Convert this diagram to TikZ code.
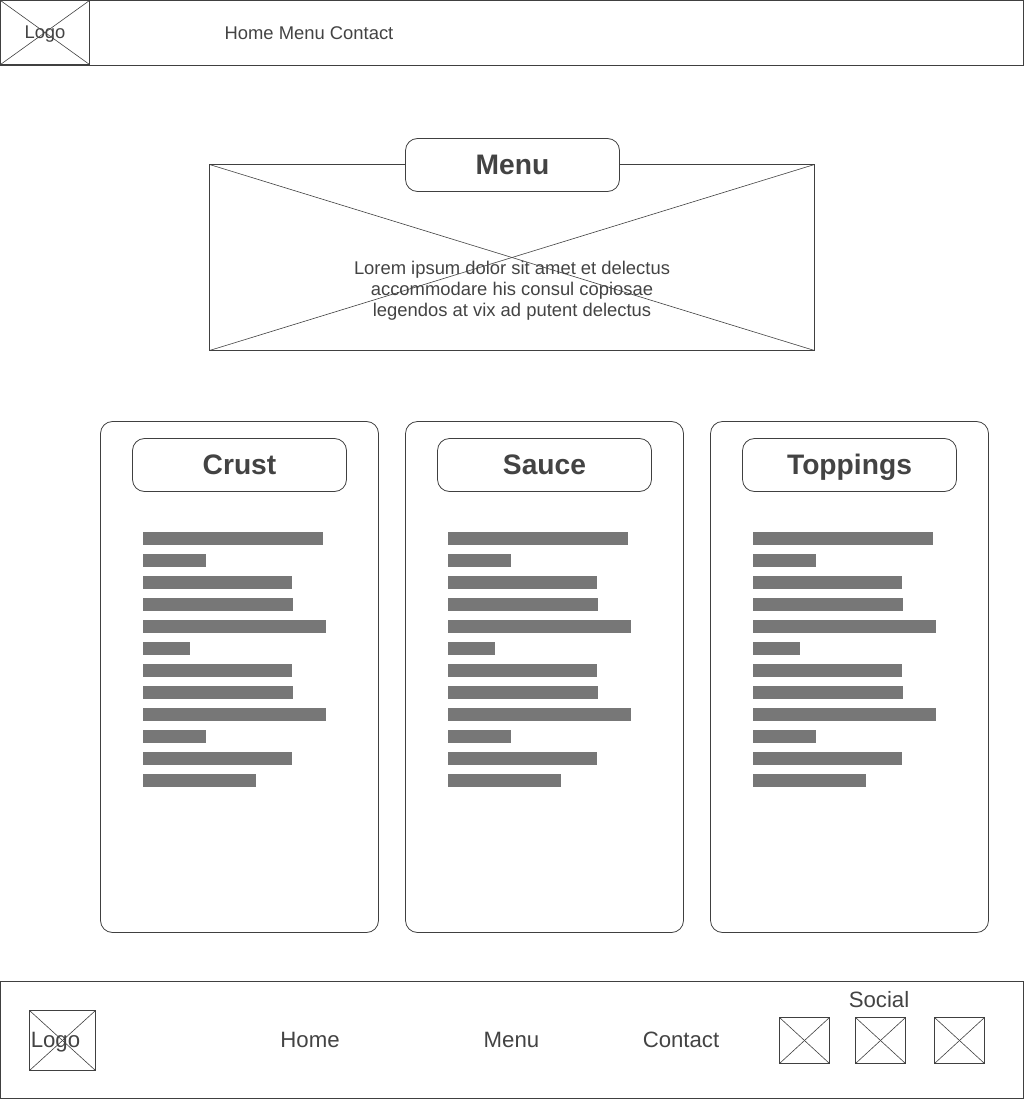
\documentclass[tikz,border=0pt]{standalone}
\usepackage{fontspec}
\setmainfont{Liberation Sans}
\usepackage{tikz}
\definecolor{wireline}{HTML}{404040}
\definecolor{wiretext}{HTML}{434343}
\definecolor{wirebar}{HTML}{777777}

\begin{document}
\begin{tikzpicture}[x=1pt,y=-1pt]
    \tikzstyle{frame}=[
      draw=wireline,
      line width=0.8pt,
      rectangle,
      inner sep=0pt,
      outer sep=0pt,
      anchor=north west,
    ]
    \tikzstyle{cross}=[draw=wireline,line width=0.6pt]
    \tikzstyle{card}=[
      frame,
      rounded corners=12pt,
      minimum width=278pt,
      minimum height=511pt,
    ]
    \tikzstyle{pill}=[
      frame,
      fill=white,
      rounded corners=12pt,
      minimum width=214pt,
      minimum height=53pt,
      text=wiretext,
      text height=19pt,
      text depth=0pt,
      font=\fontsize{28.2}{32}\selectfont\bfseries,
    ]
    \tikzstyle{bar}=[
      fill=wirebar,
      rectangle,
      inner sep=0pt,
      outer sep=0pt,
      anchor=north west,
      minimum height=13pt,
    ]
    \tikzstyle{smalltext}=[
      text=wiretext,
      inner sep=0pt,
      anchor=base,
      font=\fontsize{18.4}{21}\selectfont,
    ]
    \tikzstyle{bigtext}=[
      text=wiretext,
      inner sep=0pt,
      anchor=base,
      font=\fontsize{22.2}{26}\selectfont,
    ]

    \useasboundingbox (0,0) rectangle (1024,1099);

    \coordinate (crustAnchor) at (143,532);
    \coordinate (sauceAnchor) at (448,532);
    \coordinate (toppingsAnchor) at (753,532);

    % header
    {
      \node[frame, minimum width=1023pt, minimum height=65pt] (header) at (0.5,0.5) {};
      \node[frame, minimum width=89pt, minimum height=64pt] (headerLogo) at (0.5,0.5) {};
      \draw[cross] (headerLogo.north west)--(headerLogo.south east);
      \draw[cross] (headerLogo.south west)--(headerLogo.north east);
      \node[smalltext] (headerLogoText) at (45,38.5) {Logo};
      \node[smalltext] (headerNav) at (309,39.5) {Home Menu Contact};
    }

    % hero
    {
      \node[frame, minimum width=605pt, minimum height=186pt] (hero) at (209.5,164.5) {};
      \draw[cross] (hero.north west)--(hero.south east);
      \draw[cross] (hero.south west)--(hero.north east);
      \node[pill] (heroTitle) at (405.5,138.5) {Menu};
      \node[smalltext, anchor=center, align=center] (heroText) at (512,291) {Lorem ipsum dolor sit amet et delectus\\accommodare his consul copiosae\\legendos at vix ad putent delectus};
    }

    % crust
    {
      \node[card] (crust) at (100.5,421.5) {};
      \node[pill] (crustTitle) at (132.5,438.5) {Crust};

      \node[bar, minimum width=180pt] (crust1) at ([yshift=0pt] crustAnchor) {};
      \node[bar, minimum width=63pt] (crust2) at ([yshift=-22pt] crustAnchor) {};
      \node[bar, minimum width=149pt] (crust3) at ([yshift=-44pt] crustAnchor) {};
      \node[bar, minimum width=150pt] (crust4) at ([yshift=-66pt] crustAnchor) {};
      \node[bar, minimum width=183pt] (crust5) at ([yshift=-88pt] crustAnchor) {};
      \node[bar, minimum width=47pt] (crust6) at ([yshift=-110pt] crustAnchor) {};
      \node[bar, minimum width=149pt] (crust7) at ([yshift=-132pt] crustAnchor) {};
      \node[bar, minimum width=150pt] (crust8) at ([yshift=-154pt] crustAnchor) {};
      \node[bar, minimum width=183pt] (crust9) at ([yshift=-176pt] crustAnchor) {};
      \node[bar, minimum width=63pt] (crust10) at ([yshift=-198pt] crustAnchor) {};
      \node[bar, minimum width=149pt] (crust11) at ([yshift=-220pt] crustAnchor) {};
      \node[bar, minimum width=113pt] (crust12) at ([yshift=-242pt] crustAnchor) {};
    }

    % sauce
    {
      \node[card] (sauce) at (405.5,421.5) {};
      \node[pill] (sauceTitle) at (437.5,438.5) {Sauce};

      \node[bar, minimum width=180pt] (sauce1) at ([yshift=0pt] sauceAnchor) {};
      \node[bar, minimum width=63pt] (sauce2) at ([yshift=-22pt] sauceAnchor) {};
      \node[bar, minimum width=149pt] (sauce3) at ([yshift=-44pt] sauceAnchor) {};
      \node[bar, minimum width=150pt] (sauce4) at ([yshift=-66pt] sauceAnchor) {};
      \node[bar, minimum width=183pt] (sauce5) at ([yshift=-88pt] sauceAnchor) {};
      \node[bar, minimum width=47pt] (sauce6) at ([yshift=-110pt] sauceAnchor) {};
      \node[bar, minimum width=149pt] (sauce7) at ([yshift=-132pt] sauceAnchor) {};
      \node[bar, minimum width=150pt] (sauce8) at ([yshift=-154pt] sauceAnchor) {};
      \node[bar, minimum width=183pt] (sauce9) at ([yshift=-176pt] sauceAnchor) {};
      \node[bar, minimum width=63pt] (sauce10) at ([yshift=-198pt] sauceAnchor) {};
      \node[bar, minimum width=149pt] (sauce11) at ([yshift=-220pt] sauceAnchor) {};
      \node[bar, minimum width=113pt] (sauce12) at ([yshift=-242pt] sauceAnchor) {};
    }

    % toppings
    {
      \node[card] (toppings) at (710.5,421.5) {};
      \node[pill] (toppingsTitle) at (742.5,438.5) {Toppings};

      \node[bar, minimum width=180pt] (toppings1) at ([yshift=0pt] toppingsAnchor) {};
      \node[bar, minimum width=63pt] (toppings2) at ([yshift=-22pt] toppingsAnchor) {};
      \node[bar, minimum width=149pt] (toppings3) at ([yshift=-44pt] toppingsAnchor) {};
      \node[bar, minimum width=150pt] (toppings4) at ([yshift=-66pt] toppingsAnchor) {};
      \node[bar, minimum width=183pt] (toppings5) at ([yshift=-88pt] toppingsAnchor) {};
      \node[bar, minimum width=47pt] (toppings6) at ([yshift=-110pt] toppingsAnchor) {};
      \node[bar, minimum width=149pt] (toppings7) at ([yshift=-132pt] toppingsAnchor) {};
      \node[bar, minimum width=150pt] (toppings8) at ([yshift=-154pt] toppingsAnchor) {};
      \node[bar, minimum width=183pt] (toppings9) at ([yshift=-176pt] toppingsAnchor) {};
      \node[bar, minimum width=63pt] (toppings10) at ([yshift=-198pt] toppingsAnchor) {};
      \node[bar, minimum width=149pt] (toppings11) at ([yshift=-220pt] toppingsAnchor) {};
      \node[bar, minimum width=113pt] (toppings12) at ([yshift=-242pt] toppingsAnchor) {};
    }

    % footer
    {
      \node[frame, minimum width=1023pt, minimum height=117pt] (footer) at (0.5,981.5) {};
      \node[frame, minimum width=66pt, minimum height=60pt] (footerLogo) at (29.5,1010.5) {};
      \draw[cross] (footerLogo.north west)--(footerLogo.south east);
      \draw[cross] (footerLogo.south west)--(footerLogo.north east);
      \node[bigtext] (footerLogoText) at (55.5,1047) {Logo};
      \node[bigtext] (footerHome) at (310,1047) {Home};
      \node[bigtext] (footerMenu) at (511.5,1047) {Menu};
      \node[bigtext] (footerContact) at (681,1047) {Contact};
      \node[bigtext] (footerSocial) at (879,1007) {Social};

      \node[frame, minimum width=50pt, minimum height=46pt] (social1) at (779.5,1017.5) {};
      \node[frame, minimum width=50pt, minimum height=46pt] (social2) at (855.5,1017.5) {};
      \node[frame, minimum width=50pt, minimum height=46pt] (social3) at (934.5,1017.5) {};
      \draw[cross] (social1.north west)--(social1.south east);
      \draw[cross] (social1.south west)--(social1.north east);
      \draw[cross] (social2.north west)--(social2.south east);
      \draw[cross] (social2.south west)--(social2.north east);
      \draw[cross] (social3.north west)--(social3.south east);
      \draw[cross] (social3.south west)--(social3.north east);
    }
\end{tikzpicture}
\end{document}
